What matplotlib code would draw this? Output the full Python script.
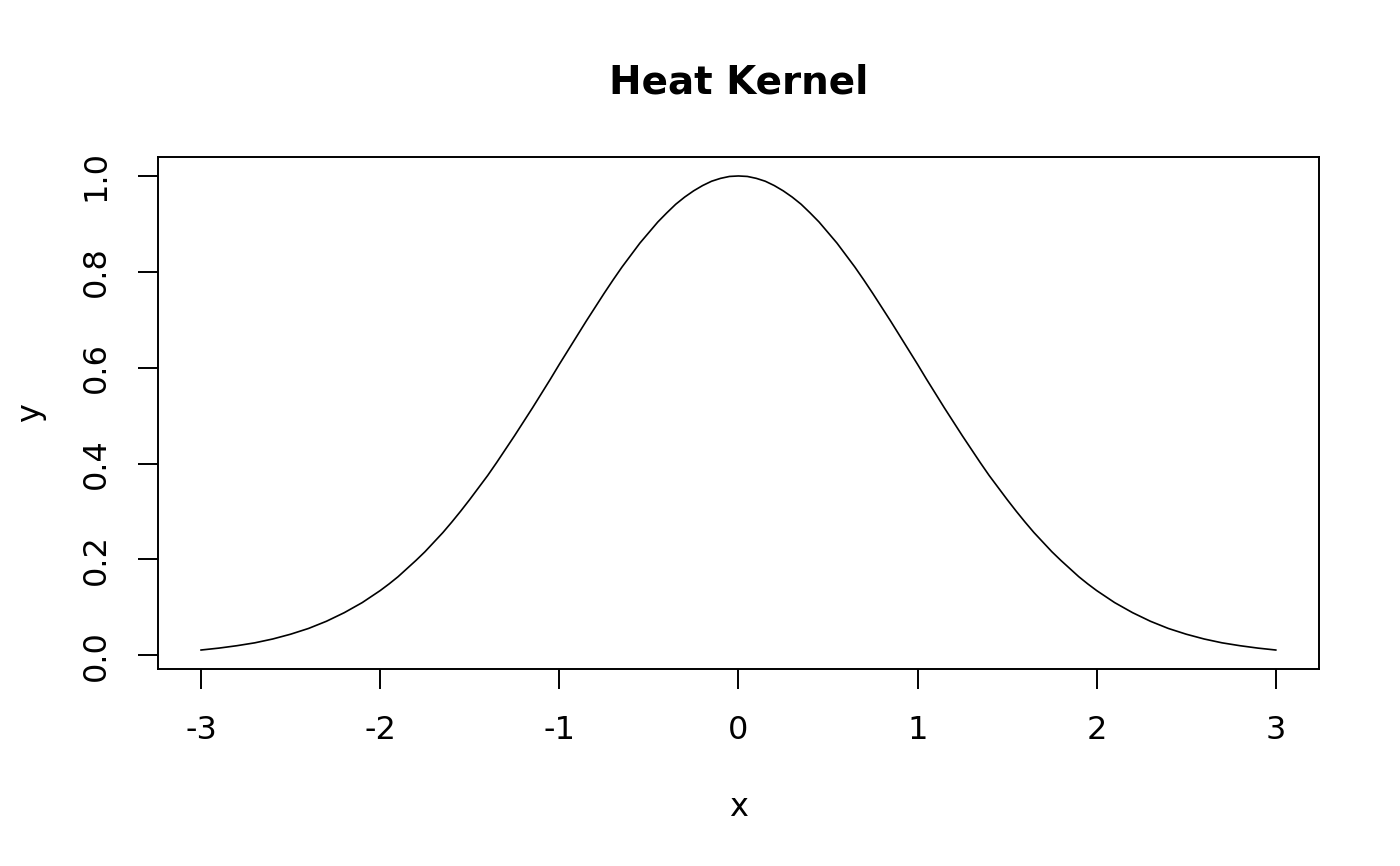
import numpy as np
import matplotlib
matplotlib.use("Agg")
import matplotlib.pyplot as plt

x_right = [0.0, 0.05, 0.1, 0.15, 0.2, 0.25, 0.3, 0.35, 0.4, 0.45, 0.5, 0.55,
           0.6, 0.65, 0.7, 0.75, 0.8, 0.85, 0.9, 0.95, 1.0, 1.05, 1.1, 1.15,
           1.2, 1.25, 1.3, 1.35, 1.4, 1.45, 1.5, 1.55, 1.6, 1.65, 1.7, 1.75,
           1.8, 1.85, 1.9, 1.95, 2.0, 2.1, 2.2, 2.3, 2.4, 2.5, 2.6, 2.7, 2.8,
           2.9, 3.0]
y_right = [1.000, 0.999, 0.995, 0.989, 0.980, 0.969, 0.956, 0.941, 0.923, 0.904,
           0.882, 0.860, 0.835, 0.810, 0.783, 0.755, 0.726, 0.697, 0.667, 0.637,
           0.607, 0.576, 0.546, 0.516, 0.487, 0.458, 0.430, 0.402, 0.375, 0.350,
           0.325, 0.301, 0.278, 0.256, 0.236, 0.216, 0.198, 0.181, 0.164, 0.149,
           0.135, 0.110, 0.089, 0.071, 0.056, 0.044, 0.034, 0.026, 0.020, 0.015,
           0.011]
x = np.array([-v for v in x_right[::-1][:-1]] + x_right)
y = np.array(y_right[::-1][:-1] + y_right)

x_ticks = [-3, -2, -1, 0, 1, 2, 3]
y_ticks = [0.0, 0.2, 0.4, 0.6, 0.8, 1.0]

fig = plt.figure(figsize=(14, 8.66), dpi=100)
ax = fig.add_axes([0.1129, 0.2275, 0.942 - 0.1129, 0.8187 - 0.2275])

ax.plot(x, y, color="black", linewidth=1.2)

# R-style 4% axis expansion
xr = x.max() - x.min()
yr = y.max() - y.min()
ax.set_xlim(x.min() - 0.04 * xr, x.max() + 0.04 * xr)
ax.set_ylim(y.min() - 0.04 * yr, y.max() + 0.04 * yr)

ax.set_xticks(x_ticks)
ax.set_xticklabels([str(v) for v in x_ticks])
ax.set_yticks(y_ticks)
ax.set_yticklabels([f"{v:.1f}" for v in y_ticks], rotation=90, va="center")

ax.tick_params(direction="out", length=14.4, width=1.4, labelsize=23,
               pad=19, color="black")
for s in ax.spines.values():
    s.set_linewidth(1.4)

ax.set_xlabel("x", fontsize=23, labelpad=33)
ax.set_ylabel("y", fontsize=23, labelpad=25)
ax.set_title("Heat Kernel", fontsize=28, fontweight="bold", pad=46)

fig.savefig("out.png", dpi=100)
